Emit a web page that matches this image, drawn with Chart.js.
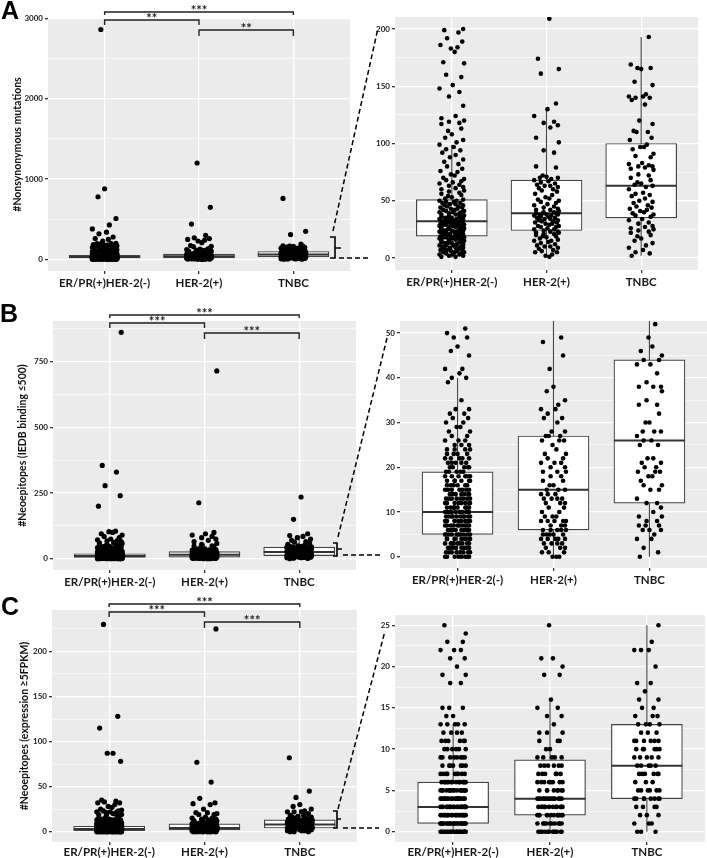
<!DOCTYPE html>
<html>
<head>
<meta charset="utf-8">
<script src="https://cdn.jsdelivr.net/npm/chart.js@4.4.0/dist/chart.umd.min.js"></script>
<style>
  body { margin: 0; background: #fff; width: 707px; height: 858px; position: relative; overflow: hidden; }
  .p { position: absolute; }
  svg { position: absolute; left: 0; top: 0; pointer-events: none; }
</style>
</head>
<body>
<div class="p" style="left:0;top:0"><canvas id="aL" width="352" height="292"></canvas></div>
<div class="p" style="left:350px;top:0"><canvas id="aR" width="357" height="292"></canvas></div>
<div class="p" style="left:0;top:290px"><canvas id="bL" width="360" height="300"></canvas></div>
<div class="p" style="left:350px;top:290px"><canvas id="bR" width="357" height="300"></canvas></div>
<div class="p" style="left:0;top:580px"><canvas id="cL" width="360" height="278"></canvas></div>
<div class="p" style="left:350px;top:580px"><canvas id="cR" width="357" height="278"></canvas></div>

<svg width="707" height="858">
  <g font-family="'Liberation Sans', Arial, sans-serif" font-weight="bold" font-size="25" fill="#000">
    <text x="1" y="19">A</text>
    <text x="0" y="322">B</text>
    <text x="1" y="615">C</text>
  </g>
  <g stroke="#000" stroke-width="1.5" fill="none" stroke-dasharray="5,3">
    <line x1="333" y1="231" x2="378" y2="28"/>
    <line x1="339" y1="258" x2="371" y2="258"/>
    <line x1="338" y1="537" x2="387" y2="338"/>
    <line x1="343" y1="555" x2="381" y2="555"/>
    <line x1="338" y1="809" x2="385" y2="631"/>
    <line x1="343" y1="828" x2="379" y2="828"/>
  </g>
  <g stroke="#000" stroke-width="1.6" fill="none">
    <path d="M330 237 H335 V258 H330 M335 248 H341"/>
    <path d="M333 543 H337 V556 H333 M337 549 H342"/>
    <path d="M333 811 H337 V828 H333 M337 819 H341"/>
  </g>
</svg>

<script>
// groups on the x axis
const categories = ['ER/PR(+)HER-2(-)', 'HER-2(+)', 'TNBC'];

// A: nonsynonymous mutations per sample
const erA = [1,1,2,2,3,3,3,4,4,5,5,5,6,6,7,7,7,8,8,9,9,9,10,10,11,11,11,12,12,13,13,13,14,14,14,15,15,15,16,16,16,17,17,17,18,18,18,18,19,19,19,19,19,
  20,20,20,21,21,21,22,22,22,23,23,23,24,24,24,25,25,25,25,26,26,26,27,27,27,28,28,28,28,29,29,29,30,30,30,30,31,31,31,31,32,32,32,32,
  33,33,33,34,34,34,35,35,35,36,36,36,37,37,38,38,38,39,39,40,40,40,41,41,42,42,43,43,44,44,45,45,46,46,47,47,48,48,49,49,50,50,51,
  52,53,54,55,56,57,58,59,60,61,62,63,64,65,66,67,68,69,70,72,73,75,76,78,80,82,84,86,88,90,92,94,95,97,99,
  101,103,105,108,111,113,117,118,119,120,122,124,133,141,145,148,151,158,160,170,171,180,183,184,186,189,192,197,199,200,
  230,250,260,280,320,340,380,430,510,780,880,2860];
const herA = [1,2,3,5,5,6,7,8,9,10,10,11,12,13,14,15,15,16,17,18,19,19,20,21,21,22,22,23,23,24,
  25,25,26,27,27,28,28,29,30,30,31,31,32,32,33,33,34,34,35,35,36,36,37,37,38,38,38,39,39,39,
  40,40,41,42,42,43,44,45,46,47,48,49,50,51,52,53,55,56,58,59,60,61,62,63,63,64,65,66,67,68,
  69,70,70,71,72,79,80,92,94,101,105,114,116,118,119,124,130,135,161,165,174,209,230,240,250,260,270,300,440,650,1200];
const tnA = [2,4,5,7,9,11,13,15,17,19,20,22,23,24,25,26,27,28,30,31,33,34,
  36,37,38,39,40,41,42,43,44,45,46,48,49,50,52,54,55,56,57,60,62,63,
  64,65,66,68,70,72,73,77,78,79,80,80,81,82,83,88,89,91,95,97,97,99,
  103,105,110,110,111,117,120,134,138,140,140,141,141,143,151,154,165,166,166,169,193,310,350,760];
const q1A = [19, 24, 35], medA = [32, 39, 63], q3A = [51, 68, 100], loA = [0, 1, 2], hiA = [99, 130, 193];

// B: neoepitopes (IEDB binding <=500)
const erB = [0,0,0,0,0,0,0,0,1,1,1,1,1,1,1,1,2,2,2,2,2,2,2,2,3,3,3,3,3,3,3,3,3,4,4,4,4,4,4,4,4,4,
  5,5,5,5,5,5,5,5,5,5,6,6,6,6,6,6,6,6,6,6,7,7,7,7,7,7,7,7,7,7,8,8,8,8,8,8,8,8,8,8,
  9,9,9,9,9,9,9,9,9,9,10,10,10,10,10,10,10,10,10,10,11,11,11,11,11,11,11,11,12,12,12,12,12,12,12,12,
  13,13,13,13,13,13,13,13,14,14,14,14,14,14,14,15,15,15,15,15,15,15,16,16,16,16,16,16,17,17,17,17,17,17,
  18,18,18,18,18,18,19,19,19,19,19,20,20,20,20,20,21,21,21,21,21,22,22,22,22,22,23,23,23,23,24,24,24,24,
  25,25,25,26,26,26,27,27,28,28,29,29,30,30,31,31,32,32,33,33,35,39,40,40,41,42,42,45,46,47,49,49,50,51,
  55,58,60,62,65,68,70,72,75,80,85,90,95,100,103,105,200,240,278,330,355,862];
const herB = [0,0,0,1,1,1,2,2,2,3,3,3,3,4,4,4,4,4,5,5,5,5,5,6,6,6,6,6,7,7,7,8,8,8,8,8,9,9,9,10,10,11,11,
  12,12,12,13,13,13,13,14,14,14,15,15,15,16,16,17,17,18,18,19,19,19,20,20,21,21,21,22,22,23,23,24,25,
  26,26,26,27,27,27,28,28,30,31,31,32,33,33,34,35,37,38,42,45,48,49,55,58,65,70,75,80,85,90,95,100,213,715];
const tnB = [0,1,2,4,4,5,6,6,6,7,7,7,8,8,9,9,10,11,12,12,13,15,15,16,16,17,18,18,19,19,19,20,20,21,21,22,22,
  25,25,26,26,27,28,28,28,30,30,32,34,34,35,37,38,38,38,39,41,43,43,44,44,45,46,47,49,52,
  55,60,63,65,70,75,80,85,88,95,150,235];
const q1B = [5, 6, 12], medB = [10, 15, 26], q3B = [19, 27, 44], loB = [0, 0, 0], hiB = [40, 58, 88];

// C: neoepitopes (expression >=5 FPKM)
const erC = [0,0,0,0,0,0,0,0,0,0,0,0,0,0,0,0,0,0,0,0,0,0,
  1,1,1,1,1,1,1,1,1,1,1,1,1,1,1,1,1,1,1,1,1,1,
  2,2,2,2,2,2,2,2,2,2,2,2,2,2,2,2,2,2,2,2,
  3,3,3,3,3,3,3,3,3,3,3,3,3,3,3,3,3,3,3,3,
  4,4,4,4,4,4,4,4,4,4,4,4,4,4,4,4,4,4,
  5,5,5,5,5,5,5,5,5,5,5,5,5,5,5,5,
  6,6,6,6,6,6,6,6,6,6,6,6,6,6,
  7,7,7,7,7,7,7,7,7,8,8,8,8,8,8,8,9,9,9,9,9,9,9,9,10,10,10,10,10,10,11,11,11,11,11,11,
  12,12,12,12,13,13,13,13,13,14,14,15,15,15,18,18,19,19,20,21,21,22,22,22,23,23,24,25,
  27,28,30,32,32,33,34,35,78,87,87,115,128,230];
const herC = [0,0,0,0,0,0,0,0,0,0,0,0,1,1,1,1,1,1,1,1,1,1,2,2,2,2,2,2,2,2,2,2,2,2,
  3,3,3,3,3,3,3,3,3,3,3,3,4,4,4,4,4,4,4,4,4,4,4,4,4,4,5,5,5,5,5,5,5,5,6,6,6,6,6,6,6,6,
  7,7,7,7,7,7,8,8,8,8,8,8,9,9,9,9,9,10,10,11,11,11,12,12,12,13,14,14,15,15,16,19,19,20,21,21,25,
  30,31,32,37,55,77,225];
const tnC = [0,0,0,1,1,1,2,2,2,3,3,3,3,4,4,4,4,4,4,4,4,5,5,5,5,5,5,6,6,6,7,7,7,7,7,7,8,8,8,8,8,
  9,9,9,9,9,10,10,10,10,10,10,11,11,11,11,11,11,12,12,12,13,13,13,13,14,14,14,15,15,16,16,17,18,18,
  20,22,22,22,23,25,28,30,38,45,82];
const q1C = [1, 2, 4], medC = [3, 4, 8], q3C = [6, 8.7, 13], loC = [0, 0, 0], hiC = [13, 16, 25];

// y tick labels of each panel
const ticksAL = [0, 1000, 2000, 3000], ticksAR = [0, 50, 100, 150, 200];
const ticksBL = [0, 250, 500, 750], ticksBR = [0, 10, 20, 30, 40, 50];
const ticksCL = [0, 50, 100, 150, 200], ticksCR = [0, 5, 10, 15, 20, 25];

// horizontal jitter of the dots (category units)
const jitter = [-0.11,0.04,0.12,-0.03,0.08,-0.13,0.01,0.10,-0.06,0.13,-0.09,0.03,-0.01,0.06,-0.12,0.11,-0.05,0.07,
  -0.08,0.12,-0.02,0.04,-0.10,0.09,-0.06,0.02,-0.13,0.05,0.12,-0.07,0.00,-0.04,0.10,-0.11,0.08,-0.03,0.13];

const FONT = 'Lato, "Open Sans", sans-serif';

const bgPlugin = {
  id: 'panelBg',
  beforeDraw(c) {
    const a = c.chartArea, ctx = c.ctx;
    ctx.save();
    ctx.fillStyle = '#EBEBEB';
    ctx.fillRect(a.left, a.top, a.right - a.left, a.bottom - a.top);
    ctx.restore();
  }
};

const bracketPlugin = {
  id: 'brackets',
  afterDraw(c, args, o) {
    if (!o.list) return;
    const ctx = c.ctx, xs = c.scales.x, top = c.chartArea.top;
    ctx.save();
    ctx.strokeStyle = '#222';
    ctx.fillStyle = '#222';
    ctx.lineWidth = 1.4;
    ctx.font = 'bold 13px ' + FONT;
    ctx.textAlign = 'center';
    o.list.forEach(b => {
      const x1 = xs.getPixelForValue(b.from), x2 = xs.getPixelForValue(b.to), y = top + b.dy;
      ctx.beginPath();
      ctx.moveTo(x1, y + b.tip);
      ctx.lineTo(x1, y);
      ctx.lineTo(x2, y);
      ctx.lineTo(x2, y + b.tip);
      ctx.stroke();
      ctx.fillText(b.label, (x1 + x2) / 2, y + 3);
    });
    ctx.restore();
  }
};

function brackets(l1, l2, l3) {
  return [
    { from: 1, to: 3, dy: -6, tip: 3, label: l1 },
    { from: 1, to: 2, dy: 2, tip: 5, label: l2 },
    { from: 2, to: 3, dy: 12, tip: 6, label: l3 }
  ];
}

function panel(id, groups, box, ticks, o) {
  const pts = [];
  groups.forEach((vals, g) => {
    vals.forEach((v, i) => pts.push({ x: g + 1 + jitter[(i + g * 11) % jitter.length], y: v }));
  });
  const datasets = [
    { type: 'scatter', data: pts, pointRadius: o.r, pointBackgroundColor: '#000', pointBorderWidth: 0, order: 0 },
    { type: 'scatter', data: box.med.map((m, g) => ({ x: g + 1, y: m })), pointStyle: 'line',
      pointRadius: 35.5, pointBorderColor: '#333', pointBorderWidth: 2, order: 1 },
    { type: 'bar', data: box.q1.map((q, g) => ({ x: g + 1, y: [q, box.q3[g]] })), backgroundColor: '#fff',
      borderColor: '#444', borderWidth: 1.2, borderSkipped: false, barThickness: 71, order: 2 }
  ];
  box.lo.forEach((lo, g) => datasets.push({
    type: 'line', data: [{ x: g + 1, y: lo }, { x: g + 1, y: box.hi[g] }],
    borderColor: '#444', borderWidth: 1.1, pointRadius: 0, order: 3
  }));

  const minorStep = (ticks[1] - ticks[0]) / 2;
  const allTicks = [];
  ticks.forEach(t => {
    allTicks.push({ value: t });
    if (t + minorStep <= o.max) allTicks.push({ value: t + minorStep, minor: true });
  });

  new Chart(document.getElementById(id), {
    type: 'scatter',
    data: { datasets },
    options: {
      responsive: false,
      animation: false,
      events: [],
      layout: { autoPadding: false, padding: { top: o.top, right: o.right, left: 0, bottom: 0 } },
      plugins: {
        legend: { display: false },
        tooltip: { enabled: false },
        brackets: { list: o.brackets || null }
      },
      scales: {
        x: {
          type: 'linear', min: 0.4, max: 3.6, offset: false,
          afterBuildTicks: s => { s.ticks = [1, 2, 3].map(v => ({ value: v })); },
          afterFit: s => { s.height = o.xh; },
          ticks: {
            callback: v => categories[v - 1], autoSkip: false, maxRotation: 0, minRotation: 0,
            padding: o.xpad !== undefined ? o.xpad : 2, color: '#1a1a1a',
            font: { family: FONT, weight: 'bold', size: 11.5 }
          },
          grid: { color: '#fff', lineWidth: 1.3, tickColor: '#333', tickLength: 3, offset: false },
          border: { display: false }
        },
        y: {
          type: 'linear', min: o.min, max: o.max,
          afterBuildTicks: s => { s.ticks = allTicks.map(t => Object.assign({}, t)); },
          afterFit: s => { s.width = o.yw; },
          ticks: {
            callback: (v, i, arr) => arr[i].minor ? '' : String(v), autoSkip: false,
            padding: 2, color: '#222', font: { family: FONT, weight: 'bold', size: 8 }
          },
          grid: {
            color: '#fff',
            lineWidth: c => (c.tick && c.tick.minor) ? 0.6 : 1.3,
            tickColor: c => (c.tick && c.tick.minor) ? 'rgba(0,0,0,0)' : '#333',
            tickLength: 3
          },
          border: { display: false },
          title: {
            display: !!o.title, text: o.title || '', color: '#111',
            font: { family: FONT, weight: 'bold', size: 10.5 }, padding: { top: o.tpad || 4, bottom: 0 }
          }
        }
      }
    },
    plugins: [bgPlugin, bracketPlugin]
  });
}

const boxA = { q1: q1A, med: medA, q3: q3A, lo: loA, hi: hiA };
const boxB = { q1: q1B, med: medB, q3: q3B, lo: loB, hi: hiB };
const boxC = { q1: q1C, med: medC, q3: q3C, lo: loC, hi: hiC };

panel('aL', [erA, herA, tnA], boxA, ticksAL, { min: -143, max: 3003, top: 18, right: 2, yw: 48, xh: 21, r: 2.6,
  title: '#Nonsynonymous mutations', tpad: 11, brackets: brackets('***', '**', '**') });
panel('aR', [erA, herA, tnA], boxA, ticksAR, { min: -10.5, max: 210.5, top: 17, right: 9, yw: 45, xh: 22, r: 2.3 });

panel('bL', [erB, herB, tnB], boxB, ticksBL, { min: -43, max: 905, top: 31, right: 4, yw: 53, xh: 20, r: 2.6,
  title: '#Neoepitopes (IEDB binding \u2264500)', tpad: 16, brackets: brackets('***', '***', '***') });
panel('bR', [erB, herB, tnB], boxB, ticksBR, { min: -2.5, max: 52.7, top: 31, right: 0, yw: 50, xh: 22, r: 2.3 });

panel('cL', [erC, herC, tnC], boxC, ticksCL, { min: -11.5, max: 246, top: 30, right: 3, yw: 52, xh: 16, r: 2.6, xpad: 0,
  title: '#Neoepitopes (expression \u22655FPKM)', tpad: 18, brackets: brackets('***', '***', '***') });
panel('cR', [erC, herC, tnC], boxC, ticksCR, { min: -1.25, max: 26.25, top: 35, right: 2, yw: 45, xh: 16, r: 2.3, xpad: 0 });
</script>
</body>
</html>
